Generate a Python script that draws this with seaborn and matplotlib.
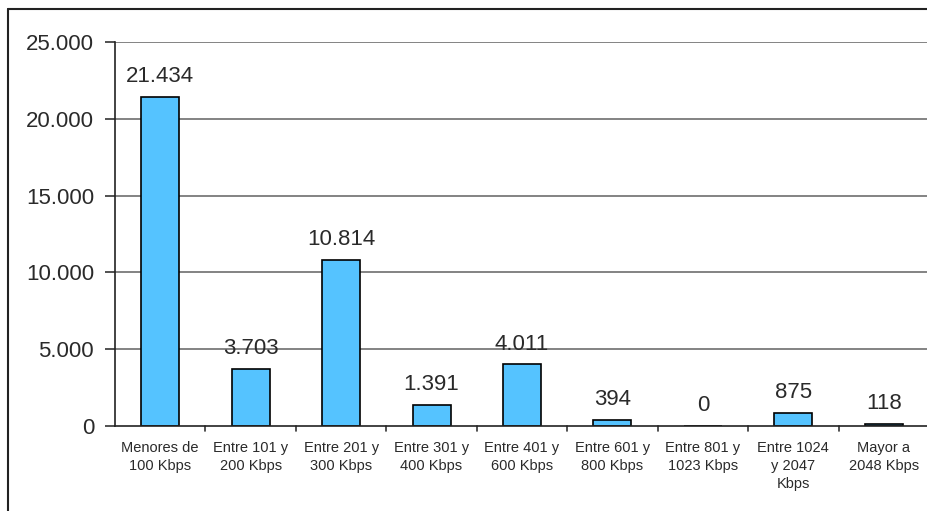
import matplotlib
matplotlib.use("Agg")
import matplotlib.pyplot as plt
import seaborn as sns
import pandas as pd
from matplotlib.lines import Line2D

categories = [
    "Menores de\n100 Kbps",
    "Entre 101 y\n200 Kbps",
    "Entre 201 y\n300 Kbps",
    "Entre 301 y\n400 Kbps",
    "Entre 401 y\n600 Kbps",
    "Entre 601 y\n800 Kbps",
    "Entre 801 y\n1023 Kbps",
    "Entre 1024\ny 2047\nKbps",
    "Mayor a\n2048 Kbps",
]
values = [21434, 3703, 10814, 1391, 4011, 394, 0, 875, 118]
value_labels = ["21.434", "3.703", "10.814", "1.391", "4.011", "394", "0", "875", "118"]
y_ticks = [0, 5000, 10000, 15000, 20000, 25000]
y_tick_labels = ["0", "5.000", "10.000", "15.000", "20.000", "25.000"]

df = pd.DataFrame({"rango": categories, "usuarios": values})

sns.set_style("white")
plt.rcParams["font.family"] = ["Liberation Sans", "DejaVu Sans"]

fig = plt.figure(figsize=(9.27, 5.11), dpi=100)
ax = fig.add_axes([115 / 927, 1 - 426 / 511, (929 - 115) / 927, (426 - 42) / 511])

sns.barplot(data=df, x="rango", y="usuarios", color="#55C3FF", saturation=1,
            edgecolor="black", linewidth=1.2, width=0.42, ax=ax, zorder=3)

ax.set_ylim(0, 25000)
ax.set_xlim(-0.5, len(categories) - 0.5)
ax.set_yticks(y_ticks)
ax.set_yticklabels(y_tick_labels, fontsize=16, color="#2a2a2a")
ax.set_xticks(range(len(categories)))
ax.set_xticklabels(categories, fontsize=10.5, color="#2a2a2a", linespacing=1.35)
ax.tick_params(axis="x", length=0, pad=11)
ax.tick_params(axis="y", length=7, width=1.2, color="#333333", direction="out", pad=8, left=True)
ax.set_xlabel("")
ax.set_ylabel("")

# horizontal gridlines
for t in y_ticks[1:]:
    ax.axhline(t, color="#7a7a7a", linewidth=1.3, zorder=1)

# category separators on the x axis
for i in range(1, len(categories)):
    ax.plot([i - 0.5, i - 0.5], [0, -0.014], transform=ax.get_xaxis_transform(),
            color="#333333", linewidth=1.2, clip_on=False)

for side in ["top", "right"]:
    ax.spines[side].set_visible(False)
ax.spines["left"].set_color("#222222")
ax.spines["left"].set_linewidth(1.2)
ax.spines["bottom"].set_color("#222222")
ax.spines["bottom"].set_linewidth(1.2)
ax.spines["bottom"].set_zorder(4)

# value labels above bars
for i, (v, lab) in enumerate(zip(values, value_labels)):
    ax.annotate(lab, (i, v), xytext=(0, 7), textcoords="offset points",
                ha="center", va="bottom", fontsize=16, color="#2a2a2a")

# outer chart frame
fig.add_artist(Line2D([8 / 927, 8 / 927], [0, 1 - 9 / 511], transform=fig.transFigure,
                      color="#222222", linewidth=1.5))
fig.add_artist(Line2D([8 / 927, 1], [1 - 9 / 511, 1 - 9 / 511], transform=fig.transFigure,
                      color="#222222", linewidth=1.5))

fig.savefig("out.png", dpi=100)
